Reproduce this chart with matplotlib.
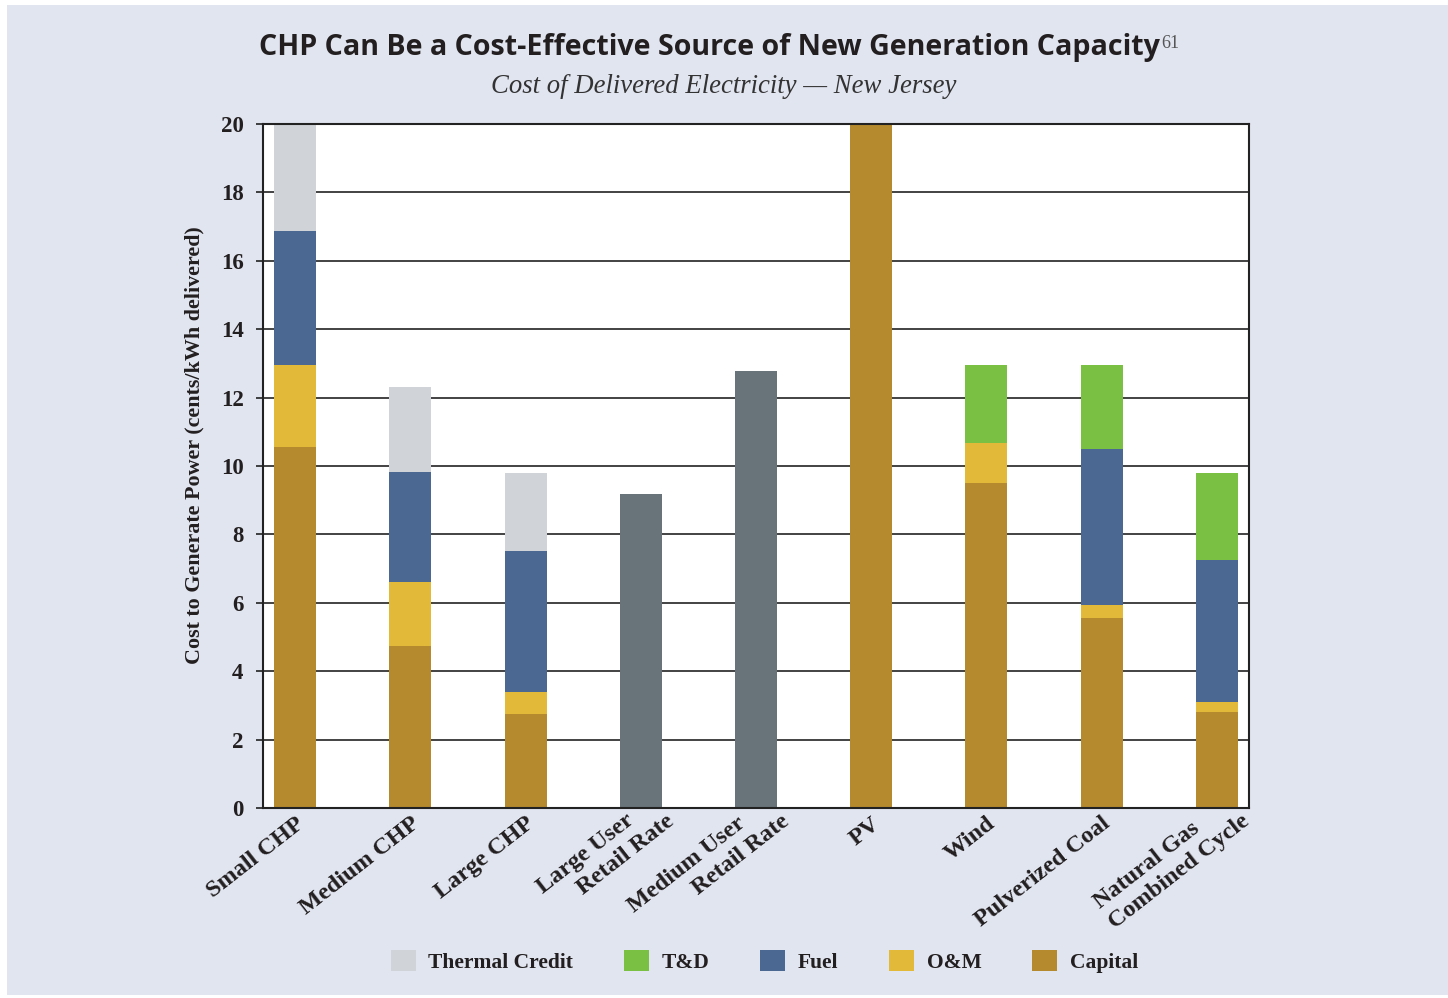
import numpy as np
import matplotlib.pyplot as plt
import matplotlib.transforms as mtransforms
from matplotlib.patches import Rectangle, Patch

# categories and stacked components (cents/kWh delivered)
categories = ["Small CHP", "Medium CHP", "Large CHP", "Large User\nRetail Rate",
              "Medium User\nRetail Rate", "PV", "Wind", "Pulverized Coal",
              "Natural Gas\nCombined Cycle"]
capital = [10.55, 4.75, 2.75, 0, 0, 20.0, 9.5, 5.55, 2.8]
om = [2.4, 1.87, 0.65, 0, 0, 0, 1.17, 0.4, 0.3]
fuel = [3.92, 3.2, 4.12, 0, 0, 0, 0, 4.55, 4.15]
td = [0, 0, 0, 0, 0, 0, 2.28, 2.45, 2.55]
thermal = [3.13, 2.5, 2.28, 0, 0, 0, 0, 0, 0]
retail = [0, 0, 0, 9.18, 12.78, 0, 0, 0, 0]

yticks = list(range(0, 21, 2))
# second lines are indented in the original typesetting
indent = {"Large User\nRetail Rate": 5, "Medium User\nRetail Rate": 10}

colors = {
    "Thermal Credit": "#D0D3D8",
    "T&D": "#7AC143",
    "Fuel": "#4A6892",
    "O&M": "#E3B93A",
    "Capital": "#B5892D",
}
retail_color = "#69737A"
bg = "#E1E5F0"
serif = "Liberation Serif"
sans = "Open Sans"

fig = plt.figure(figsize=(14.48, 9.98), dpi=100, facecolor="white")
fig.patches.append(Rectangle((7 / 1448, 3 / 998), 1 - 7 / 1448, 1 - 8 / 998,
                             transform=fig.transFigure, facecolor=bg,
                             edgecolor="none", zorder=-10))

ax = fig.add_axes([263 / 1448, 1 - 808 / 998, 986 / 1448, 684 / 998])
ax.set_facecolor("white")

x = np.arange(len(categories))
w = 0.365
bottom = np.zeros(len(x))
for name, vals in [("Capital", capital), ("O&M", om), ("Fuel", fuel),
                   ("T&D", td), ("Thermal Credit", thermal)]:
    vals = np.array(vals, dtype=float)
    ax.bar(x, vals, w, bottom=bottom, color=colors[name], zorder=3, linewidth=0)
    bottom += vals
ax.bar(x, retail, w, color=retail_color, zorder=3, linewidth=0)

ax.set_ylim(0, 20)
ax.set_xlim(-0.28, len(x) - 1 + 0.28)
ax.set_yticks(yticks)
ax.set_yticklabels([str(t) for t in yticks], fontfamily=serif,
                   fontweight="bold", fontsize=16.5, color="#231f20")
ax.yaxis.grid(True, color="#222222", linewidth=1.2, zorder=1)
ax.set_axisbelow(True)
ax.tick_params(axis="y", length=5, width=1.2, color="#222222", pad=9)
ax.set_xticks(x)
ax.set_xticklabels([])
ax.tick_params(axis="x", length=0)
for s in ax.spines.values():
    s.set_color("#222222")
    s.set_linewidth(1.5)
    s.set_zorder(5)

# category labels, rotated
base = ax.get_xaxis_transform()
for xi, cat in zip(x, categories):
    if "\n" in cat:
        first, second = cat.split("\n")
        label = first + "\n" + " " * indent.get(cat, 0) + second
        dx, dy = 8.5, 17
    else:
        label = cat
        dx, dy = 0, -5
    tr = base + mtransforms.ScaledTranslation(dx / 100, dy / 100, fig.dpi_scale_trans)
    ax.text(xi, 0, label, transform=tr, rotation=38, rotation_mode="anchor",
            ha="right", va="top", multialignment="left", linespacing=1.25,
            fontfamily=serif, fontweight="bold", fontsize=17.5, color="#231f20")

ax.set_ylabel("Cost to Generate Power (cents/kWh delivered)", fontfamily=serif,
              fontweight="bold", fontsize=15.8, color="#231f20")
ax.yaxis.set_label_coords(-0.059, 0.531)

# title with superscript note
t = fig.text(0.490, 0.952, "CHP Can Be a Cost-Effective Source of New Generation Capacity",
             ha="center", va="center", fontfamily=sans, fontweight="bold",
             fontsize=20.6, color="#231f20")
fig.canvas.draw()
bb = t.get_window_extent()
fig.text((bb.x1 + 1) / fig.bbox.width, (bb.y1 - 2) / fig.bbox.height, "61",
         ha="left", va="top", fontfamily=serif, fontsize=13, color="#555555")
fig.text(0.5, 0.913, "Cost of Delivered Electricity \u2014 New Jersey", ha="center",
         va="center", fontfamily=serif, fontstyle="italic", fontsize=19.3,
         color="#333333")

handles = [Patch(facecolor=colors[k], edgecolor="none") for k in colors]
leg = fig.legend(handles, list(colors.keys()), loc="center",
                 bbox_to_anchor=(0.528, 0.037), ncol=5, frameon=False,
                 handlelength=1.16, handleheight=1.16, handletextpad=0.6,
                 columnspacing=2.35,
                 prop={"family": serif, "weight": "bold", "size": 15.5})
for txt in leg.get_texts():
    txt.set_color("#231f20")

fig.savefig("out.png", dpi=100, facecolor=fig.get_facecolor())
